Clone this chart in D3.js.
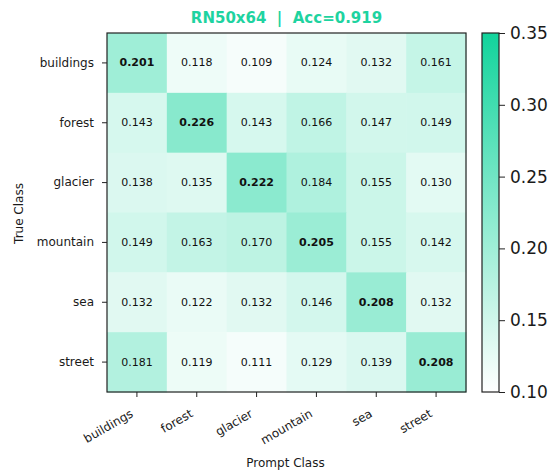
<!DOCTYPE html>
<html>
<head>
<meta charset="utf-8">
<script src="https://cdn.jsdelivr.net/npm/d3@7"></script>
<style>
  html, body { margin: 0; padding: 0; background: #fff; }
  svg { display: block; font-family: "DejaVu Sans", sans-serif; }
</style>
</head>
<body>
<svg id="chart" width="550" height="474"></svg>
<script>
// Confusion matrix of prompt similarity: rows = true class, columns = prompt class
const classes = ["buildings", "forest", "glacier", "mountain", "sea", "street"];
const buildingsRow = [0.201, 0.118, 0.109, 0.124, 0.132, 0.161];
const forestRow    = [0.143, 0.226, 0.143, 0.166, 0.147, 0.149];
const glacierRow   = [0.138, 0.135, 0.222, 0.184, 0.155, 0.130];
const mountainRow  = [0.149, 0.163, 0.170, 0.205, 0.155, 0.142];
const seaRow       = [0.132, 0.122, 0.132, 0.146, 0.208, 0.132];
const streetRow    = [0.181, 0.119, 0.111, 0.129, 0.139, 0.208];
const matrix = [buildingsRow, forestRow, glacierRow, mountainRow, seaRow, streetRow];
const colorTicks = [0.10, 0.15, 0.20, 0.25, 0.30, 0.35];
const titleText = "RN50x64  |  Acc=0.919";

const svg = d3.select("#chart");
const plotLeft = 107, plotTop = 33, size = 359;
const accent = "#12d49c";
const ink = "#1a1a1a";

const x = d3.scaleBand().domain(classes).range([plotLeft, plotLeft + size]);
const y = d3.scaleBand().domain(classes).range([plotTop, plotTop + size]);
const color = d3.scaleLinear().domain([0.10, 0.35]).range(["#ffffff", accent]).clamp(true);

const cells = [];
matrix.forEach((row, i) => row.forEach((v, j) => cells.push({ r: classes[i], c: classes[j], v, diag: i === j })));

// Heatmap cells
svg.append("g").selectAll("rect").data(cells).join("rect")
  .attr("x", d => x(d.c)).attr("y", d => y(d.r))
  .attr("width", x.bandwidth() + 0.5).attr("height", y.bandwidth() + 0.5)
  .attr("fill", d => color(d.v));

// Cell values
svg.append("g").selectAll("text").data(cells).join("text")
  .attr("x", d => x(d.c) + x.bandwidth() / 2)
  .attr("y", d => y(d.r) + y.bandwidth() / 2)
  .attr("text-anchor", "middle").attr("dominant-baseline", "central")
  .attr("font-size", 11)
  .attr("font-weight", d => d.diag ? "bold" : "normal")
  .attr("fill", "#111")
  .text(d => d.v.toFixed(3));

// Frame
svg.append("rect").attr("x", plotLeft).attr("y", plotTop).attr("width", size).attr("height", size)
  .attr("fill", "none").attr("stroke", "#222").attr("stroke-width", 1.2);

// Axes
const xAxis = svg.append("g").attr("transform", `translate(0,${plotTop + size})`)
  .call(d3.axisBottom(x).tickSize(5).tickPadding(3));
xAxis.select(".domain").remove();
xAxis.selectAll("text")
  .attr("font-size", 12).attr("font-family", "DejaVu Sans").attr("fill", ink)
  .attr("text-anchor", "end")
  .attr("x", 0).attr("y", 0).attr("dy", 0)
  .attr("transform", "translate(-3,24) rotate(-30)");
xAxis.selectAll("line").attr("stroke", "#222");

const yAxis = svg.append("g").attr("transform", `translate(${plotLeft},0)`)
  .call(d3.axisLeft(y).tickSize(5).tickPadding(8));
yAxis.select(".domain").remove();
yAxis.selectAll("text").attr("font-size", 12).attr("font-family", "DejaVu Sans").attr("fill", ink);
yAxis.selectAll("line").attr("stroke", "#222");

// Axis titles
svg.append("text").attr("x", plotLeft + size / 2 - 1).attr("y", 467)
  .attr("text-anchor", "middle").attr("font-size", 12).attr("fill", ink).text("Prompt Class");
svg.append("text").attr("transform", `translate(23,${plotTop + size / 2 + 1}) rotate(-90)`)
  .attr("text-anchor", "middle").attr("font-size", 12).attr("fill", ink).text("True Class");

// Title
svg.append("text").attr("x", plotLeft + size / 2).attr("y", 23)
  .attr("text-anchor", "middle").attr("font-size", 15).attr("font-weight", "bold")
  .style("white-space", "pre")
  .attr("fill", "#1ed3a0").text(titleText);

// Colorbar
const cbX = 482, cbW = 17;
const cy = d3.scaleLinear().domain([0.10, 0.35]).range([plotTop + size, plotTop]);
const defs = svg.append("defs");
const grad = defs.append("linearGradient").attr("id", "cbgrad")
  .attr("x1", 0).attr("y1", 1).attr("x2", 0).attr("y2", 0);
d3.range(0, 1.0001, 0.1).forEach(t => {
  grad.append("stop").attr("offset", t).attr("stop-color", color(0.10 + t * 0.25));
});
svg.append("rect").attr("x", cbX).attr("y", plotTop).attr("width", cbW).attr("height", size)
  .attr("fill", "url(#cbgrad)").attr("stroke", "#222").attr("stroke-width", 1.2);
const cAxis = svg.append("g").attr("transform", `translate(${cbX + cbW},0)`)
  .call(d3.axisRight(cy).tickValues(colorTicks).tickFormat(d3.format(".2f")).tickSize(6).tickPadding(5));
cAxis.select(".domain").remove();
cAxis.selectAll("text").attr("font-size", 17).attr("font-family", "DejaVu Sans").attr("fill", ink);
cAxis.selectAll("line").attr("stroke", "#222");
</script>
</body>
</html>
